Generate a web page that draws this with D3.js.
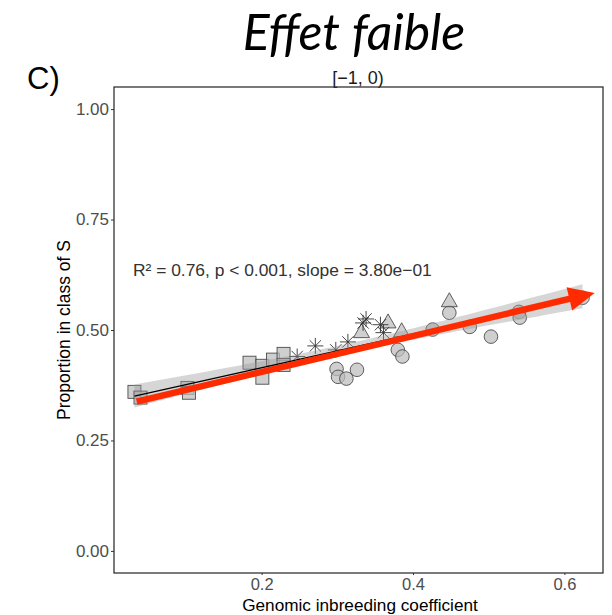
<!DOCTYPE html>
<html>
<head>
<meta charset="utf-8">
<script src="https://cdn.jsdelivr.net/npm/d3@7"></script>
<style>
  body { margin: 0; background: #fff; }
  text { font-family: "Liberation Sans", Arial, sans-serif; }
</style>
</head>
<body>
<div id="chart"></div>
<script>
// data (x = genomic inbreeding coefficient, y = proportion in class S)
var squaresX = [0.032, 0.040, 0.102, 0.104, 0.184, 0.201, 0.201, 0.215, 0.229, 0.229];
var squaresY = [0.360, 0.347, 0.369, 0.358, 0.426, 0.419, 0.392, 0.433, 0.446, 0.421];
var starsX = [0.247, 0.271, 0.298, 0.314, 0.334, 0.338, 0.357, 0.361];
var starsY = [0.440, 0.464, 0.455, 0.473, 0.516, 0.525, 0.512, 0.494];
var trianglesX = [0.332, 0.367, 0.385, 0.448];
var trianglesY = [0.494, 0.516, 0.496, 0.564];
var circlesX = [0.299, 0.301, 0.312, 0.326, 0.380, 0.386, 0.426, 0.448, 0.475, 0.503, 0.540, 0.541, 0.624];
var circlesY = [0.412, 0.394, 0.390, 0.410, 0.455, 0.440, 0.501, 0.539, 0.507, 0.485, 0.541, 0.528, 0.573];

var yTicks = [0, 0.25, 0.5, 0.75, 1];
var xTicks = [0.2, 0.4, 0.6];
var xDomain = [0.005, 0.651];
var yDomain = [-0.05, 1.05];

// hand-drawn red arrow, start and tip in data units
var arrowX = [0.035, 0.640];
var arrowY = [0.338, 0.584];

var statLabel = "R\u00b2 = 0.76, p < 0.001, slope = 3.80e\u221201";

function init() {
    var w = 612, h = 615;
    var m = {left: 114, right: 9, top: 87, bottom: 42};

    var svg = d3.select("#chart").append("svg")
        .attr("width", w)
        .attr("height", h);

    var xScale = d3.scaleLinear().domain(xDomain).range([m.left, w - m.right]);
    var yScale = d3.scaleLinear().domain(yDomain).range([h - m.bottom, m.top]);

    // titles
    svg.append("text")
        .attr("x", 354).attr("y", 50)
        .attr("text-anchor", "middle")
        .style("font-family", "Lato, 'Open Sans', sans-serif")
        .style("font-style", "italic")
        .attr("font-size", "50px")
        .attr("fill", "#000")
        .text("Effet faible");

    svg.append("text")
        .attr("x", 27).attr("y", 89)
        .attr("font-size", "31px")
        .attr("fill", "#000")
        .text("C)");

    svg.append("text")
        .attr("x", 358).attr("y", 84)
        .attr("text-anchor", "middle")
        .attr("font-size", "18px")
        .attr("fill", "#1a1a1a")
        .text("[\u22121, 0)");

    // axes
    var yAxis = d3.axisLeft(yScale).tickValues(yTicks).tickFormat(d3.format(".2f")).tickSize(3).tickPadding(2);
    var gy = svg.append("g").attr("transform", "translate(" + m.left + ",0)").call(yAxis);
    gy.select(".domain").remove();
    gy.selectAll("line").attr("stroke", "#333");
    gy.selectAll("text").attr("font-size", "17px").attr("fill", "#4d4d4d")
        .style("font-family", "'Liberation Sans', Arial, sans-serif");

    var xAxis = d3.axisBottom(xScale).tickValues(xTicks).tickFormat(d3.format(".1f")).tickSize(2).tickPadding(3);
    var gx = svg.append("g").attr("transform", "translate(0," + (h - m.bottom) + ")").call(xAxis);
    gx.select(".domain").remove();
    gx.selectAll("line").attr("stroke", "#333");
    gx.selectAll("text").attr("font-size", "16.5px").attr("fill", "#4d4d4d")
        .style("font-family", "'Liberation Sans', Arial, sans-serif");

    svg.append("text")
        .attr("x", 360).attr("y", 611)
        .attr("text-anchor", "middle")
        .attr("font-size", "17.2px")
        .attr("fill", "#000")
        .text("Genomic inbreeding coefficient");

    svg.append("text")
        .attr("transform", "translate(70," + ((m.top + h - m.bottom) / 2) + ") rotate(-90)")
        .attr("text-anchor", "middle")
        .attr("font-size", "17.5px")
        .attr("fill", "#000")
        .text("Proportion in class of S");

    var plot = svg.append("g");

    var pointStyle = function(sel) {
        sel.attr("fill", "#bdbdbd")
           .attr("fill-opacity", 0.72)
           .attr("stroke", "#333")
           .attr("stroke-opacity", 0.85)
           .attr("stroke-width", 0.9);
    };

    plot.selectAll("rect.sq")
        .data(d3.zip(squaresX, squaresY))
        .enter().append("rect")
        .attr("class", "sq")
        .attr("x", function(d) { return xScale(d[0]) - 6.5; })
        .attr("y", function(d) { return yScale(d[1]) - 6.5; })
        .attr("width", 13).attr("height", 13)
        .call(pointStyle);

    plot.selectAll("circle.ci")
        .data(d3.zip(circlesX, circlesY))
        .enter().append("circle")
        .attr("class", "ci")
        .attr("cx", function(d) { return xScale(d[0]); })
        .attr("cy", function(d) { return yScale(d[1]); })
        .attr("r", 6.8)
        .call(pointStyle);

    plot.selectAll("path.tri")
        .data(d3.zip(trianglesX, trianglesY))
        .enter().append("path")
        .attr("class", "tri")
        .attr("d", "M0,-9L8,5L-8,5Z")
        .attr("transform", function(d) { return "translate(" + xScale(d[0]) + "," + yScale(d[1]) + ")"; })
        .call(pointStyle);

    // asterisk = plus + cross
    var star = "M-8,0L8,0M0,-8L0,8M-5.7,-5.7L5.7,5.7M-5.7,5.7L5.7,-5.7";
    plot.selectAll("path.star")
        .data(d3.zip(starsX, starsY))
        .enter().append("path")
        .attr("class", "star")
        .attr("d", star)
        .attr("transform", function(d) { return "translate(" + xScale(d[0]) + "," + yScale(d[1]) + ")"; })
        .attr("fill", "none")
        .attr("stroke", "#333")
        .attr("stroke-width", 0.9);

    // linear fit with 95% confidence band, computed from all points
    var allX = squaresX.concat(starsX, trianglesX, circlesX);
    var allY = squaresY.concat(starsY, trianglesY, circlesY);
    var n = allX.length;
    var mx = d3.mean(allX), my = d3.mean(allY);
    var sxx = d3.sum(allX, function(x) { return (x - mx) * (x - mx); });
    var sxy = d3.sum(allX, function(x, i) { return (x - mx) * (allY[i] - my); });
    var slope = sxy / sxx;
    var icpt = my - slope * mx;
    var sse = d3.sum(allX, function(x, i) { var r = allY[i] - (icpt + slope * x); return r * r; });
    var s = Math.sqrt(sse / (n - 2));
    var tval = 2.03;
    var xs = d3.range(0, 81).map(function(i) { return d3.min(allX) + i / 80 * (d3.max(allX) - d3.min(allX)); });
    var band = xs.map(function(x) {
        var fit = icpt + slope * x;
        var se = s * Math.sqrt(1 / n + (x - mx) * (x - mx) / sxx);
        return {x: x, fit: fit, lo: fit - tval * se, hi: fit + tval * se};
    });

    plot.append("path")
        .datum(band)
        .attr("d", d3.area()
            .x(function(d) { return xScale(d.x); })
            .y0(function(d) { return yScale(d.lo); })
            .y1(function(d) { return yScale(d.hi); }))
        .attr("fill", "#999")
        .attr("fill-opacity", 0.4);

    plot.append("path")
        .datum(band)
        .attr("d", d3.line()
            .x(function(d) { return xScale(d.x); })
            .y(function(d) { return yScale(d.fit); }))
        .attr("fill", "none")
        .attr("stroke", "#000")
        .attr("stroke-width", 1.3);

    // red arrow
    var red = "#ff2b00";
    var x0 = xScale(arrowX[0]), y0 = yScale(arrowY[0]);
    var x1 = xScale(arrowX[1]), y1 = yScale(arrowY[1]);
    var ang = Math.atan2(y1 - y0, x1 - x0);
    var headLen = 26, headHalf = 12;
    var bx = x1 - headLen * Math.cos(ang), by = y1 - headLen * Math.sin(ang);
    plot.append("line")
        .attr("x1", x0).attr("y1", y0)
        .attr("x2", bx + 2 * Math.cos(ang)).attr("y2", by + 2 * Math.sin(ang))
        .attr("stroke", red)
        .attr("stroke-width", 6.5);
    plot.append("path")
        .attr("d", "M" + x1 + "," + y1 +
                   "L" + (bx - headHalf * Math.sin(ang)) + "," + (by + headHalf * Math.cos(ang)) +
                   "L" + (bx + headHalf * Math.sin(ang)) + "," + (by - headHalf * Math.cos(ang)) + "Z")
        .attr("fill", red);

    // stats label
    svg.append("text")
        .attr("x", 133).attr("y", 276)
        .attr("font-size", "17.4px")
        .attr("fill", "#333")
        .text(statLabel);

    // panel border
    svg.append("rect")
        .attr("x", m.left).attr("y", m.top)
        .attr("width", w - m.left - m.right)
        .attr("height", h - m.top - m.bottom)
        .attr("fill", "none")
        .attr("stroke", "#333")
        .attr("stroke-width", 1.3);
}
window.onload = init;
</script>
</body>
</html>
